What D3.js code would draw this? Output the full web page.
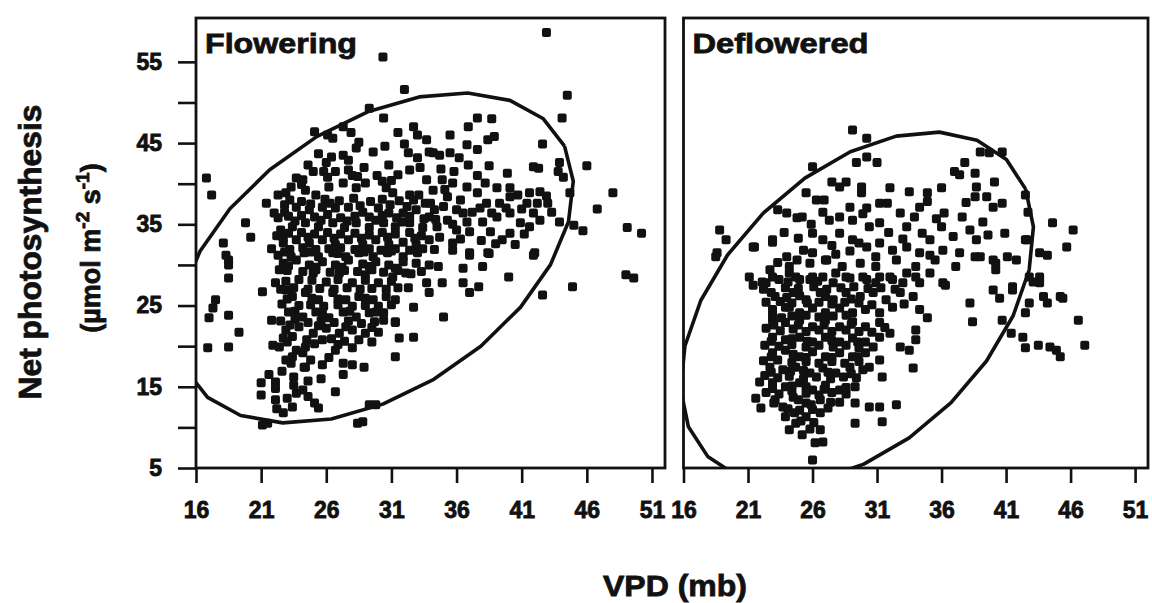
<!DOCTYPE html>
<html>
<head>
<meta charset="utf-8">
<script src="https://cdn.jsdelivr.net/npm/d3@7"></script>
<style>
    body { margin: 0; background: #fff; }
    svg { display: block; font-family: "Liberation Sans", Arial, sans-serif; font-weight: bold; }
    .heavy { stroke: #111; stroke-width: 0.8px; paint-order: stroke; }
</style>
</head>
<body>
<svg id="chart" width="1152" height="603"></svg>
<script>
// Axis ticks
var xTicks = [16, 21, 26, 31, 36, 41, 46, 51];
var yTicks = [5, 10, 15, 20, 25, 30, 35, 40, 45, 50, 55];
var yLabels = [5, 15, 25, 35, 45, 55];
var panelNames = ["Flowering", "Deflowered"];

// Confidence ellipses: [center VPD, center Pn, sd VPD, sd Pn, covariance]
var ellipseFlowering = [29.76, 30.86, 15.21, 20.32, 133];
var ellipseDeflowered = [29.45, 24.70, 13.68, 21.67, 126.6];

// Points [VPD (mb), Net photosynthesis]
var flowering = [
    [30.35,55.6],[42.9,58.6],[32.0,51.6],[44.5,50.9],[44.1,48.1],[46.0,42.2],[48.0,38.9],[46.8,36.9],[49.1,34.6],[50.2,33.9],
    [49.0,28.8],[49.6,28.4],[44.9,27.3],[42.6,44.9],[41.9,42.1],[42.3,41.9],[43.9,42.6],[43.8,41.5],[44.2,40.8],[44.7,38.9],
    [45.0,34.9],[45.7,34.2],[43.9,35.3],
    [37.6,48.1],[38.7,48.0],[36.9,47.0],[38.9,45.8],[38.4,45.4],[35.5,46.0],[36.8,44.8],[37.6,44.2],[35.5,43.8],[34.2,43.8],
    [34.7,43.5],[36.9,42.3],[38.5,42.2],[39.9,41.3],[34.9,40.5],[35.7,40.1],[36.8,39.6],[38.2,40.1],[39.1,39.5],[40.1,39.5],
    [40.7,38.6],[41.6,38.9],[42.4,39.0],[43.0,37.6],[42.2,37.6],[41.4,37.6],[38.3,37.6],[39.3,37.6],[40.1,38.4],[35.3,38.4],
    [36.3,38.0],[37.2,36.5],[36.5,36.4],[34.3,36.8],[35.3,35.5],[38.0,35.3],[39.1,35.9],[40.1,36.4],[40.9,35.2],[41.9,36.4],
    [42.4,35.5],[41.6,34.7],[40.1,33.9],[39.5,33.1],[38.6,34.1],[37.0,34.1],[36.0,34.3],[34.5,34.7],[34.7,33.4],[35.7,32.7],
    [37.0,31.5],[38.4,31.5],[42.0,31.5],
    [29.3,49.3],[30.4,48.1],[32.7,47.0],[33.0,46.0],[33.7,45.4],[31.5,46.3],[27.3,47.0],[27.9,46.3],[25.1,46.4],[26.1,46.0],
    [26.5,45.6],[28.5,45.1],[28.3,44.4],[29.6,43.9],[26.4,43.3],[27.3,43.5],[27.7,42.9],[32.3,43.8],[33.0,43.2],[33.9,43.9],
    [25.0,41.5],[23.7,40.7],[25.8,41.5],[26.7,41.5],[27.7,41.7],[31.5,41.1],[32.4,41.7],[16.8,40.7],[17.2,38.6],[33.7,40.5],
    [34.2,39.2],[22.3,38.6],[22.9,38.9],[21.4,37.6],[24.4,39.2],[25.2,38.6],[26.2,39.6],[27.3,40.1],[28.3,39.5],[29.0,40.1],
    [30.6,39.5],[31.1,38.9],[32.4,38.6],[33.1,38.6],
    [22.0,36.4],[22.8,36.5],[23.7,37.1],[24.7,36.8],[25.7,37.1],[26.7,37.0],[27.7,37.1],[28.8,36.5],[30.0,37.0],[30.8,36.4],
    [31.9,36.4],[32.9,36.8],[33.9,35.9],[19.8,35.2],[20.2,33.4],[18.1,32.7],[18.3,31.2],
    [22.5,34.3],[23.4,34.7],[24.4,35.2],[25.4,34.7],[26.5,35.2],[27.4,34.6],[28.3,35.2],[29.3,34.6],[30.4,35.2],[31.3,34.7],
    [32.4,35.2],[33.4,34.6],
    [22.7,32.7],[23.7,33.1],[24.7,32.7],[25.7,33.1],[26.7,32.5],[27.7,33.1],[28.8,32.5],[29.8,33.1],[30.8,32.5],[31.9,32.8],
    [32.9,32.5],[33.9,33.1],
    [22.3,31.2],[23.3,31.0],[24.3,31.5],[25.4,31.0],[26.5,31.5],[27.5,31.0],[28.5,31.5],[29.6,31.0],[30.7,31.5],[31.9,31.0],
    [33.0,31.5],
    [22.7,30.2],[23.7,30.6],[24.7,30.0],[25.7,30.4],[26.7,30.0],[27.7,30.6],[28.8,30.1],[29.8,30.4],[30.8,30.0],[31.9,30.4],
    [32.9,30.2],[33.9,30.0],[34.6,29.8],[35.7,31.8],[37.0,31.2],[38.5,31.4],[41.9,31.2],[36.5,29.6],[38.0,29.8],[40.0,28.5],
    [42.6,26.3],[37.0,26.6],[37.7,27.3],[35.0,23.6],[34.9,27.8],[33.9,26.6],[32.3,27.2],[31.3,25.7],[32.7,24.8],[36.5,27.8],
    [31.3,18.7],[28.9,17.4],[28.0,17.7],[26.7,14.4],[28.4,10.5],[28.8,10.7],[29.3,12.8],[29.8,12.8],
    [32.7,21.1],[31.6,21.0],[31.3,23.0],[30.4,24.1],
    [18.5,30.6],[18.5,30.0],[18.5,28.4],[17.5,25.7],[17.3,24.7],[17.0,23.5],[18.5,23.8],[19.3,21.7],[16.9,19.8],[18.5,19.9],
    [21.1,26.7],[21.8,23.2],
    [21.0,15.5],[21.0,14.0],[22.1,15.6],[22.1,14.8],[22.1,13.4],[22.7,11.8],[23.4,12.5],[23.7,14.2],[24.2,14.6],[25.1,13.0],
    [25.4,12.4],[23.5,16.2],[24.3,17.4],[22.9,18.3],[24.8,18.3],[25.7,17.7],[27.3,17.9],[27.3,16.5],[22.7,21.0],[22.4,19.9],
    [23.7,19.5],[24.4,19.9],[25.7,20.8],[26.7,19.5],[28.0,19.8],[28.5,20.8],[21.1,10.3],[21.5,10.5],
    [22.4,29.4],[22.1,27.8],[22.9,26.9],[23.9,28.2],[25.0,29.0],[26.0,27.9],[27.0,29.0],[28.0,27.8],[29.0,28.8],[30.0,27.8],
    [31.1,28.5],[32.1,29.0],[33.7,27.8],
    [23.4,26.1],[24.4,26.6],[25.4,25.7],[26.5,26.6],[27.5,25.7],[28.5,26.1],[29.6,25.7],[30.6,26.1],
    [23.1,24.2],[24.2,23.6],[25.2,24.2],[26.2,23.5],[27.3,24.2],[28.3,23.6],[29.3,24.1],[30.4,23.2],[31.3,22.9],
    [22.9,22.0],[23.9,22.4],[25.0,21.6],[26.0,22.2],[27.0,21.6],[28.0,22.0],[29.0,21.6],[30.0,21.7],[21.9,20.1],
    [23.4,18.7],[24.2,19.2],[24.4,17.4],[23.3,17.9],
    // denser core
    [23.2,38.0],[24.1,37.8],[25.9,38.1],[27.0,37.9],[28.1,38.2],[29.4,37.8],[30.3,38.1],[31.6,37.9],[32.7,38.0],[33.6,37.6],
    [22.3,35.8],[23.1,36.0],[24.1,36.1],[25.1,35.9],[26.1,36.2],[27.1,35.8],[28.2,36.0],[29.3,35.9],[30.3,36.1],[31.4,35.8],
    [32.4,36.0],[33.5,35.7],[34.4,35.6],
    [22.2,33.6],[23.1,33.9],[24.1,34.0],[25.1,33.8],[26.1,34.0],[27.1,33.8],[28.2,33.9],[29.3,33.7],[30.3,34.0],[31.3,33.8],
    [32.4,34.0],[33.3,33.6],
    [21.8,32.0],[23.2,31.9],[24.2,32.1],[25.2,31.9],[26.2,32.0],[27.1,32.1],[28.2,31.9],[29.3,32.0],[30.2,31.8],[31.3,32.0],
    [32.4,31.8],[33.4,32.0],[34.3,31.9],
    [23.0,29.3],[24.2,29.2],[25.2,29.4],[26.3,29.1],[27.4,29.3],[28.4,29.2],[29.5,29.4],[30.4,29.1],[31.5,29.3],[32.5,28.9],
    [33.3,29.2],
    [22.5,27.0],[23.5,27.2],[24.6,27.0],[25.5,27.1],[26.6,27.0],[27.6,27.2],[28.6,27.0],[29.5,27.1],[30.6,27.0],[31.5,27.2],
    [22.6,25.2],[23.9,25.0],[24.8,25.1],[25.8,24.9],[26.9,25.1],[28.0,24.9],[29.0,25.0],[30.0,24.9],[31.0,25.1],
    [22.5,23.1],[23.6,23.3],[24.6,22.9],[25.6,23.1],[26.6,22.9],[27.7,23.1],[28.7,22.8],[29.7,23.0],
    [23.4,21.2],[24.5,20.8],[26.4,20.9],[27.4,20.6],[29.5,20.5],
    [24.6,42.3],[26.0,42.6],[28.9,42.0],[29.9,41.0],[30.8,42.3],[28.0,41.0],[30.3,40.3],[24.1,39.9],[23.3,39.6],[34.8,41.8],
    [35.8,41.5],[37.6,41.0],[36.2,43.2],[33.2,42.0],
    [35.0,37.2],[36.0,36.8],[37.8,37.0],[38.7,36.4],[39.8,37.0],[41.0,36.9],[35.7,35.0],[36.8,35.3],[37.9,33.0],[39.0,32.6],
    [40.5,32.5],[41.2,33.8],[36.3,33.2],[34.0,37.6],[35.1,39.3],[37.6,38.9],[43.3,36.5],[42.9,38.5],
    [21.6,16.5],[22.6,16.9],[23.5,15.2],[24.6,15.7],[25.6,16.0],[26.2,18.6],[22.2,12.3],[23.0,13.6],[24.6,13.8],
    [22.8,37.4],[24.8,37.5],[26.3,37.6],[28.6,37.3],[30.9,37.4],[32.2,37.2],
    [23.6,35.4],[25.6,35.5],[27.6,35.4],[29.8,35.5],[31.8,35.3],
    [22.7,33.3],[24.6,33.4],[26.6,33.3],[28.7,33.3],[30.7,33.4],[32.8,33.3],
    [22.8,31.6],[24.8,31.6],[26.9,31.4],[28.9,31.6],[31.0,31.7],
    [23.1,29.9],[25.2,29.7],[27.2,29.7],[29.3,29.8],[31.3,29.6],
    [22.9,28.0],[24.9,28.1],[26.9,28.2],[29.0,28.1],[31.0,28.0],
    [23.0,25.8],[24.9,25.9],[26.9,25.8],[29.0,25.9],
    [23.6,24.3],[25.7,24.0],[27.8,24.3],[29.8,24.2],
    [23.2,22.6],[25.4,22.5],[27.5,22.4],[29.5,22.3],
    [23.0,20.5],[25.1,20.3],[26.9,20.2],
    [24.2,40.5],[26.1,40.8],[28.4,40.9],[31.0,40.4],[25.4,43.7],[30.5,44.6],[32.0,44.9]
];

var deflowered = [
    [29.1,46.6],[30.2,45.6],[30.2,43.3],[29.4,42.6],[31.0,42.6],[26.0,42.1],[39.0,43.9],[39.7,43.8],[40.7,43.9],[37.8,42.6],
    [37.0,41.5],[37.4,41.1],[40.1,40.2],[38.6,41.3],[38.7,39.6],[38.6,38.4],[39.5,38.4],[40.7,37.6],[40.0,37.1],[42.5,38.6],
    [42.7,36.5],[44.6,35.2],[46.2,34.3],[45.7,32.2],[42.6,33.1],[44.2,31.2],[43.6,31.5],
    [27.5,40.2],[28.1,39.6],[28.6,40.2],[29.8,39.6],[29.8,38.9],[32.0,39.5],[33.5,39.0],[34.9,38.9],[36.0,39.5],[25.5,38.9],
    [26.3,38.0],[26.9,38.0],[31.2,37.6],[31.8,37.6],[30.2,37.0],[34.3,37.1],[34.9,37.8],
    [23.3,36.8],[24.0,36.4],[24.8,35.8],[25.2,35.9],[28.1,35.9],[29.1,35.5],[30.4,34.7],[31.2,35.2],[32.8,36.4],[33.3,34.7],
    [34.5,33.9],[35.1,33.1],[36.0,34.7],[36.2,36.4],[37.6,35.9],[38.2,34.3],[38.7,33.1],[39.6,33.7],[40.9,33.9],[42.5,33.1],
    [18.8,34.3],[19.3,33.1],[18.6,31.5],[21.5,32.2],[22.9,32.8],
    [26.0,33.9],[26.8,33.1],[28.1,33.9],[29.1,33.1],[30.2,32.2],[31.2,32.7],[32.2,31.8],[33.3,32.2],[34.3,31.5],[35.1,31.2],
    [36.1,31.8],[37.4,31.5],[39.0,31.0],[40.0,30.6],[41.1,31.0],
    [24.0,31.0],[24.8,30.6],[26.0,31.5],[27.1,30.6],
    [21.1,28.5],[22.1,27.9],[22.9,28.5],[24.2,29.0],[25.0,28.2],[26.0,28.5],[27.6,27.8],[28.6,28.5],[30.2,28.2],[31.2,28.5],
    [32.2,28.2],[33.3,29.0],[34.3,27.8],[36.1,27.8],[40.0,26.9],[41.5,27.3],[42.8,28.5],[43.9,26.1],[45.2,26.1],
    [18.5,31.0],[22.9,33.1],[21.4,32.2],[27.3,35.5],[28.9,37.1],
    [25.8,30.2],[27.0,30.6],[28.3,29.8],[29.7,30.2],[30.9,29.8],[32.5,30.6],[34.0,29.8],[35.5,30.6],[37.1,29.8],[38.6,31.0],
    [40.2,30.2],[41.8,30.6],[43.6,28.5],[22.7,29.4],[24.2,29.8],
    [38.2,25.3],[38.4,23.0],[40.5,25.9],[41.5,26.9],[43.1,27.9],[43.6,27.8],[44.2,25.3],[45.4,25.9],[46.6,23.2],[47.1,20.1],
    [40.7,23.2],[41.4,21.6],[42.3,21.1],[42.5,19.8],[43.5,20.1],[44.4,19.9],[44.9,19.5],[45.2,18.7],[42.8,25.3],[42.5,24.1],
    [40.2,29.4],
    [21.4,27.5],[22.4,27.8],[23.4,28.2],[24.7,28.5],[25.8,28.2],[26.8,28.5],[27.8,29.0],[28.9,28.4],[29.9,28.5],[30.9,27.8],
    [32.0,28.5],[33.0,27.8],[34.0,28.5],[35.1,29.0],[36.3,27.5],
    [23.1,26.1],[24.5,26.6],[25.5,25.7],[26.6,26.6],[27.6,25.7],[28.6,26.6],[29.7,26.1],[30.7,26.6],[31.7,25.7],[32.8,26.6],
    [33.8,26.1],[34.3,24.5],[22.9,24.5],[23.9,24.8],[25.0,24.1],[26.0,24.7],[27.0,24.1],[28.1,24.7],[29.1,24.1],[30.1,24.5],
    [31.2,24.1],[32.2,24.8],[34.9,23.5],
    [22.9,23.2],[23.9,22.9],[25.0,23.2],[26.0,22.4],[27.0,23.2],[28.1,22.4],[29.1,23.0],[30.1,22.4],[31.2,22.9],[32.0,21.6],
    [34.0,22.0],[34.0,20.8],
    [22.9,21.1],[23.9,20.8],[25.0,21.1],[26.0,20.5],[27.0,21.1],[28.1,20.5],[29.1,21.0],[30.1,20.5],[31.2,21.1],[32.8,19.9],
    [33.5,19.5],
    [22.9,19.2],[23.9,19.5],[25.0,18.7],[26.0,19.3],[27.0,18.7],[28.1,19.2],[29.1,18.7],[30.1,19.2],[31.2,18.3],[30.4,17.4],
    [22.7,17.4],[23.7,17.1],[24.7,17.4],[25.8,16.7],[26.8,17.3],[27.8,16.7],[28.9,17.4],[29.9,17.1],[31.4,16.2],[33.8,17.3],
    [21.9,15.6],[21.6,13.6],[22.0,12.4],[23.1,13.4],
    [22.9,15.5],[23.9,15.0],[25.0,15.5],[26.0,14.6],[27.0,15.2],[28.1,14.6],[29.3,15.0],[24.5,13.7],[25.5,13.0],[26.6,13.4],
    [28.1,13.1],[29.3,13.0],[30.4,12.5],[31.2,12.5],[32.5,12.8],[23.7,12.5],
    [23.9,11.3],[24.7,10.5],[25.5,11.3],[26.6,11.8],[24.2,9.7],[25.2,9.1],[26.6,9.7],[26.2,8.1],[26.8,8.2],[26.0,6.0],
    [29.3,10.5],[31.4,10.7],
    // denser core
    [22.2,27.0],[23.9,27.2],[24.9,27.1],[26.1,27.3],[27.1,27.0],[28.2,27.2],[29.2,27.3],[30.3,27.1],[31.3,27.2],[32.4,27.0],
    [22.4,25.4],[23.5,25.5],[24.4,25.3],[25.6,25.3],[26.5,25.4],[27.5,25.2],[28.5,25.4],[29.6,25.3],[30.6,25.1],[33.1,25.2],
    [22.4,22.2],[23.5,21.9],[24.5,22.1],[25.5,21.8],[26.5,22.0],[27.5,21.8],[28.6,22.0],[29.6,21.8],[30.6,21.7],[31.6,22.3],
    [22.3,20.1],[23.4,20.0],[24.4,20.2],[25.5,19.9],[26.5,20.1],[27.6,19.9],[28.6,20.1],[29.6,19.8],[30.7,19.9],
    [22.2,18.2],[23.3,18.3],[24.4,18.0],[25.5,18.1],[26.5,17.9],[27.5,18.1],[28.5,17.9],[29.6,18.1],
    [22.3,16.4],[23.3,16.1],[24.2,16.3],[25.3,16.0],[26.3,16.2],[27.4,16.0],[28.4,16.2],[29.4,16.1],
    [22.4,14.3],[23.4,14.1],[24.4,14.5],[25.5,14.2],[26.5,14.0],[27.5,14.3],[28.6,14.1],
    [24.1,12.3],[25.0,12.1],[26.0,12.2],[27.2,12.4],
    [23.3,30.3],[25.3,31.8],[27.8,31.3],[28.9,31.7],[29.6,32.7],[27.5,32.4],[24.9,33.3],[23.8,34.0],[30.9,31.0],[25.9,35.0],
    [26.8,36.5],[29.9,36.3],[31.9,34.0],[33.0,33.2],[35.6,35.7],[36.9,33.5],[37.9,37.7],[39.2,35.3],[33.9,35.9],
    [22.8,26.6],[24.0,26.0],[25.0,26.2],[27.0,26.1],[29.0,25.8],
    [22.9,24.0],[24.4,23.7],[25.5,23.8],[26.5,23.6],[27.6,23.7],[28.6,23.8],
    [23.0,22.6],[24.9,22.6],[26.9,22.6],[29.0,22.7],
    [22.8,20.6],[24.4,20.9],[25.6,20.6],[27.5,20.7],[29.5,20.5],
    [22.8,18.7],[24.5,19.0],[25.5,18.6],[27.5,18.6],[29.5,18.7],
    [22.8,16.8],[24.3,16.9],[25.3,17.0],[27.2,16.8],[29.0,16.6],
    [22.9,14.8],[24.4,15.1],[25.5,15.0],[26.9,14.7],[28.6,14.9],
    [23.0,13.0],[24.9,13.4],[25.9,12.8],[27.4,13.1],
    [24.6,11.8],[25.1,10.8],[26.1,10.6],[25.8,9.8],
    [24.2,24.8],[23.6,23.5],[26.4,28.0],[24.1,27.9]
];

var ink = "#111";
var tickFont = "'Liberation Sans', Arial, sans-serif";
var svg = d3.select("#chart");

var y = d3.scaleLinear().domain([5, 60.4]).range([468, 18]);

var panels = [
    { name: panelNames[0], x0: 196, x1: 665, data: flowering, ell: ellipseFlowering, yAxis: true, labelW: 152 },
    { name: panelNames[1], x0: 683.5, x1: 1148, data: deflowered, ell: ellipseDeflowered, yAxis: false, labelW: 176 }
];

function styleTicks(axisG) {
    axisG.select(".domain").remove();
    axisG.selectAll("line").attr("stroke", ink).attr("stroke-width", 2.6);
    axisG.selectAll("text")
        .attr("fill", ink)
        .attr("class", "heavy")
        .style("font-family", tickFont)
        .style("font-weight", "bold")
        .style("font-size", "23px");
}

panels.forEach(function (p, i) {
    var x = d3.scaleLinear().domain([16, 52]).range([p.x0, p.x1]);

    svg.append("clipPath").attr("id", "clip" + i)
        .append("rect")
        .attr("x", p.x0).attr("y", 18)
        .attr("width", p.x1 - p.x0).attr("height", 450);

    var g = svg.append("g").attr("clip-path", "url(#clip" + i + ")");

    // Scatter squares
    g.selectAll("rect.pt")
        .data(p.data)
        .enter().append("rect")
        .attr("class", "pt")
        .attr("x", function (d) { return x(d[0]) - 4.5; })
        .attr("y", function (d) { return y(d[1]) - 4.5; })
        .attr("width", 9).attr("height", 9)
        .attr("rx", 2)
        .attr("fill", ink);

    // Ellipse, drawn as a polygon like the original
    var e = p.ell, k = e[4] / e[2], r = Math.sqrt(e[3] * e[3] - k * k);
    var ring = d3.range(0, 25).map(function (j) {
        var t = j / 24 * 2 * Math.PI + 0.3;
        return [e[0] + e[2] * Math.cos(t), e[1] + k * Math.cos(t) + r * Math.sin(t)];
    });
    g.append("path")
        .datum(ring)
        .attr("d", d3.line()
            .x(function (d) { return x(d[0]); })
            .y(function (d) { return y(d[1]); }))
        .attr("fill", "none")
        .attr("stroke", ink)
        .attr("stroke-width", 3.6)
        .attr("stroke-linejoin", "round");

    // Frame
    svg.append("rect")
        .attr("x", p.x0).attr("y", 18)
        .attr("width", p.x1 - p.x0).attr("height", 450)
        .attr("fill", "none").attr("stroke", ink).attr("stroke-width", 2.8);

    // Bottom axis
    var ax = svg.append("g")
        .attr("transform", "translate(0,468)")
        .call(d3.axisBottom(x).tickValues(xTicks).tickSize(15).tickPadding(19));
    styleTicks(ax);

    if (p.yAxis) {
        var ay = svg.append("g")
            .attr("transform", "translate(" + p.x0 + ",0)")
            .call(d3.axisLeft(y).tickValues(yTicks).tickSize(18).tickPadding(16)
                .tickFormat(function (d) { return yLabels.indexOf(d) >= 0 ? d : ""; }));
        styleTicks(ay);
    }

    // Panel label
    svg.append("text")
        .attr("class", "heavy")
        .attr("x", p.x0 + 9).attr("y", 53)
        .attr("textLength", p.labelW)
        .attr("lengthAdjust", "spacingAndGlyphs")
        .style("font-size", "28px")
        .attr("fill", ink)
        .text(p.name);
});

// Axis titles
svg.append("text")
    .attr("class", "heavy")
    .attr("transform", "translate(41,252) rotate(-90)")
    .attr("text-anchor", "middle")
    .attr("textLength", 295)
    .attr("lengthAdjust", "spacingAndGlyphs")
    .style("font-size", "32px")
    .attr("fill", ink)
    .text("Net photosynthesis");

var unit = svg.append("text")
    .attr("class", "heavy")
    .attr("transform", "translate(100,248) rotate(-90)")
    .attr("text-anchor", "middle")
    .style("font-size", "27px")
    .attr("fill", ink);
unit.append("tspan").text("(\u00b5mol m");
unit.append("tspan").attr("dy", -11).style("font-size", "19px").text("-2");
unit.append("tspan").attr("dy", 11).text(" s");
unit.append("tspan").attr("dy", -11).style("font-size", "19px").text("-1");
unit.append("tspan").attr("dy", 11).text(")");

svg.append("text")
    .attr("class", "heavy")
    .attr("x", 675).attr("y", 596)
    .attr("text-anchor", "middle")
    .attr("textLength", 144)
    .attr("lengthAdjust", "spacingAndGlyphs")
    .style("font-size", "30px")
    .attr("fill", ink)
    .text("VPD (mb)");
</script>
</body>
</html>
